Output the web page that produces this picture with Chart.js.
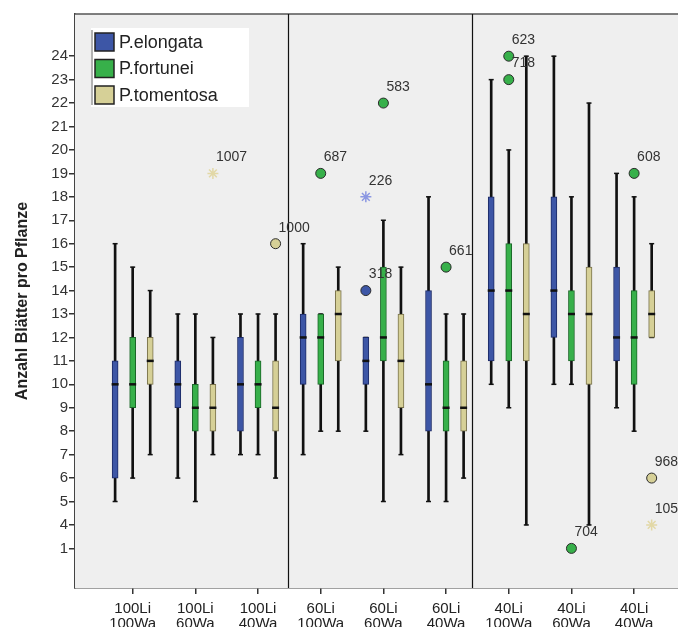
<!DOCTYPE html>
<html>
<head>
<meta charset="utf-8">
<title>Anzahl Blätter pro Pflanze</title>
<script src="https://cdn.jsdelivr.net/npm/chart.js@4.4.1/dist/chart.umd.min.js"></script>
<style>
  html, body { margin: 0; padding: 0; background: #fff; overflow: hidden; }
</style>
</head>
<body>
<canvas id="leafChart" width="678" height="627"></canvas>
<script>
const FONT = 'Arial, "Liberation Sans", sans-serif';

// treatment groups (light / water), shown as two-line tick labels
const groups = [
  ["100Li", "100Wa"], ["100Li", "60Wa"], ["100Li", "40Wa"],
  ["60Li", "100Wa"], ["60Li", "60Wa"], ["60Li", "40Wa"],
  ["40Li", "100Wa"], ["40Li", "60Wa"], ["40Li", "40Wa"]
];

// per group: [min, q1, median, q3, max]
const elongata = [
  [5, 6, 10, 11, 16], [6, 9, 10, 11, 13], [7, 8, 10, 12, 13],
  [7, 10, 12, 13, 16], [8, 10, 11, 12, 12], [5, 8, 10, 14, 18],
  [10, 11, 14, 18, 23], [10, 12, 14, 18, 24], [9, 11, 12, 15, 19]
];
const fortunei = [
  [6, 9, 10, 12, 15], [5, 8, 9, 10, 13], [7, 9, 10, 11, 13],
  [8, 10, 12, 13, 13], [5, 11, 12, 15, 17], [5, 8, 9, 11, 13],
  [9, 11, 14, 16, 20], [10, 11, 13, 14, 18], [8, 10, 12, 14, 18]
];
const tomentosa = [
  [7, 10, 11, 12, 14], [7, 8, 9, 10, 12], [6, 8, 9, 11, 13],
  [8, 11, 13, 14, 15], [7, 9, 11, 13, 15], [6, 8, 9, 11, 13],
  [4, 11, 13, 16, 24], [4, 10, 13, 15, 22], [12, 12, 13, 14, 16]
];

// outliers (circle) and extremes (star), labelled with their case number
const elongataOut = [
  { group: 4, value: 18, id: "226", kind: "star" },
  { group: 4, value: 14, id: "318", kind: "circle" }
];
const fortuneiOut = [
  { group: 3, value: 19, id: "687", kind: "circle" },
  { group: 4, value: 22, id: "583", kind: "circle" },
  { group: 5, value: 15, id: "661", kind: "circle" },
  { group: 6, value: 24, id: "623", kind: "circle" },
  { group: 6, value: 23, id: "718", kind: "circle" },
  { group: 7, value: 1, id: "704", kind: "circle" },
  { group: 8, value: 19, id: "608", kind: "circle" }
];
const tomentosaOut = [
  { group: 1, value: 19, id: "1007", kind: "star" },
  { group: 2, value: 16, id: "1000", kind: "circle" },
  { group: 8, value: 6, id: "968", kind: "circle" },
  { group: 8, value: 4, id: "1053", kind: "star" }
];

const yTickValues = [1, 4, 5, 6, 7, 8, 9, 10, 11, 12, 13, 14, 15, 16, 17, 18, 19, 20, 21, 22, 23, 24];

// axis is broken below 4: value 1 sits one step under 4
function axisPos(v) {
  return v < 4 ? v + 2 : v;
}

const species = [
  { name: "P.elongata", stats: elongata, out: elongataOut, offset: -0.28, fill: "#3d56a6", edge: "#1c2a66", star: "#8b97e2" },
  { name: "P.fortunei", stats: fortunei, out: fortuneiOut, offset: 0, fill: "#37b04a", edge: "#1b6628", star: "#6fcf7d" },
  { name: "P.tomentosa", stats: tomentosa, out: tomentosaOut, offset: 0.28, fill: "#d6d097", edge: "#77704a", star: "#e2d8a6" }
];

const panelBreaks = [2.48, 5.42];

const datasets = [];
species.forEach(sp => {
  const at = i => i + sp.offset;
  datasets.push({
    type: "bar", label: sp.name + " whisker", order: 4, grouped: false,
    data: sp.stats.map((s, i) => ({ x: at(i), y: [s[0], s[4]] })),
    backgroundColor: "#111", barThickness: 2, borderWidth: 0
  });
  datasets.push({
    type: "scatter", label: sp.name + " caps", order: 3,
    data: sp.stats.flatMap((s, i) => [{ x: at(i), y: s[0] }, { x: at(i), y: s[4] }]),
    pointStyle: "line", pointRadius: 2.5, borderColor: "#111", borderWidth: 1.5
  });
  datasets.push({
    type: "bar", label: sp.name, order: 2, grouped: false,
    data: sp.stats.map((s, i) => ({ x: at(i), y: [s[1], s[3]] })),
    backgroundColor: sp.fill, borderColor: sp.edge, borderWidth: 1,
    borderSkipped: false, barThickness: 6
  });
  datasets.push({
    type: "scatter", label: sp.name + " median", order: 1,
    data: sp.stats.map((s, i) => ({ x: at(i), y: s[2] })),
    pointStyle: "line", pointRadius: 3.5, borderColor: "#111", borderWidth: 2.5
  });
  datasets.push({
    type: "scatter", label: sp.name + " outliers", order: 0, outliers: true,
    data: sp.out.map(o => ({ x: at(o.group), y: axisPos(o.value), id: o.id, kind: o.kind })),
    pointStyle: c => c.raw && c.raw.kind === "star" ? "star" : "circle",
    pointRadius: c => c.raw && c.raw.kind === "star" ? 5.5 : 5,
    backgroundColor: sp.fill,
    borderColor: c => c.raw && c.raw.kind === "star" ? sp.star : "#2b2b2b",
    borderWidth: c => c.raw && c.raw.kind === "star" ? 1.5 : 1
  });
});

const plotFrame = {
  id: "plotFrame",
  beforeDatasetsDraw(chart) {
    const { ctx, chartArea: a, scales } = chart;
    ctx.save();
    ctx.fillStyle = "#efefef";
    ctx.fillRect(a.left, a.top, a.right - a.left, a.bottom - a.top);
    ctx.strokeStyle = "#555";
    ctx.lineWidth = 1.5;
    ctx.beginPath();
    ctx.moveTo(a.left, a.top);
    ctx.lineTo(a.right, a.top);
    ctx.stroke();
    ctx.strokeStyle = "#111";
    ctx.lineWidth = 1.2;
    panelBreaks.forEach(b => {
      const x = Math.round(scales.x.getPixelForValue(b)) + 0.5;
      ctx.beginPath();
      ctx.moveTo(x, a.top);
      ctx.lineTo(x, a.bottom);
      ctx.stroke();
    });
    ctx.restore();
  }
};

const caseLabels = {
  id: "caseLabels",
  afterDatasetsDraw(chart) {
    const ctx = chart.ctx;
    ctx.save();
    ctx.font = "14px " + FONT;
    ctx.fillStyle = "#333";
    ctx.textAlign = "left";
    ctx.textBaseline = "middle";
    chart.data.datasets.forEach((ds, di) => {
      if (!ds.outliers) return;
      chart.getDatasetMeta(di).data.forEach((pt, j) => {
        ctx.fillText(ds.data[j].id, pt.x + 3, pt.y - 16);
      });
    });
    ctx.restore();
  }
};

const boxLegend = {
  id: "boxLegend",
  afterDraw(chart) {
    const { ctx, chartArea: a } = chart;
    const x0 = a.left + 16, y0 = a.top + 14;
    ctx.save();
    ctx.fillStyle = "#fff";
    ctx.fillRect(x0, y0, 158, 79);
    ctx.strokeStyle = "#999";
    ctx.lineWidth = 1.5;
    ctx.beginPath();
    ctx.moveTo(x0 + 1, y0 + 2);
    ctx.lineTo(x0 + 1, y0 + 77);
    ctx.stroke();
    ctx.font = "18px " + FONT;
    ctx.textBaseline = "middle";
    species.forEach((sp, i) => {
      const cy = y0 + 14 + i * 26.5;
      ctx.fillStyle = sp.fill;
      ctx.fillRect(x0 + 4, cy - 9, 19, 18);
      ctx.strokeStyle = "#222";
      ctx.lineWidth = 1.5;
      ctx.strokeRect(x0 + 4, cy - 9, 19, 18);
      ctx.fillStyle = "#222";
      ctx.fillText(sp.name, x0 + 28, cy + 1);
    });
    ctx.restore();
  }
};

new Chart(document.getElementById("leafChart"), {
  type: "bar",
  data: { datasets },
  options: {
    responsive: false,
    animation: false,
    layout: { autoPadding: false, padding: { top: 14, right: 0, left: 0, bottom: 0 } },
    plugins: { legend: { display: false }, tooltip: { enabled: false } },
    scales: {
      x: {
        type: "linear",
        offset: false,
        min: -0.92,
        max: 8.7,
        afterBuildTicks: s => { s.ticks = groups.map((g, i) => ({ value: i })); },
        afterFit: s => { s.height = 39; },
        ticks: {
          autoSkip: false, maxRotation: 0, padding: 7, color: "#222",
          font: { family: FONT, size: 15, lineHeight: 1.0 },
          callback: v => groups[v]
        },
        grid: { offset: false, drawOnChartArea: false, tickLength: 6, color: "#333", lineWidth: 1.5 },
        border: { color: "#444", width: 1.5 }
      },
      y: {
        min: 1.31,
        max: 25.8,
        afterBuildTicks: s => { s.ticks = yTickValues.map(v => ({ value: axisPos(v) })); },
        afterFit: s => { s.width = 75; },
        ticks: {
          autoSkip: false, padding: 1, color: "#333",
          font: { family: FONT, size: 15 },
          callback: v => (v === axisPos(1) ? "1" : String(v))
        },
        grid: { drawOnChartArea: false, tickLength: 6, color: "#333", lineWidth: 1.5 },
        border: { color: "#444", width: 1.5 },
        title: {
          display: true, text: "Anzahl Blätter pro Pflanze", color: "#222",
          font: { family: FONT, size: 16, weight: "bold" },
          padding: { top: 13, bottom: 0 }
        }
      }
    }
  },
  plugins: [plotFrame, caseLabels, boxLegend]
});
</script>
</body>
</html>
